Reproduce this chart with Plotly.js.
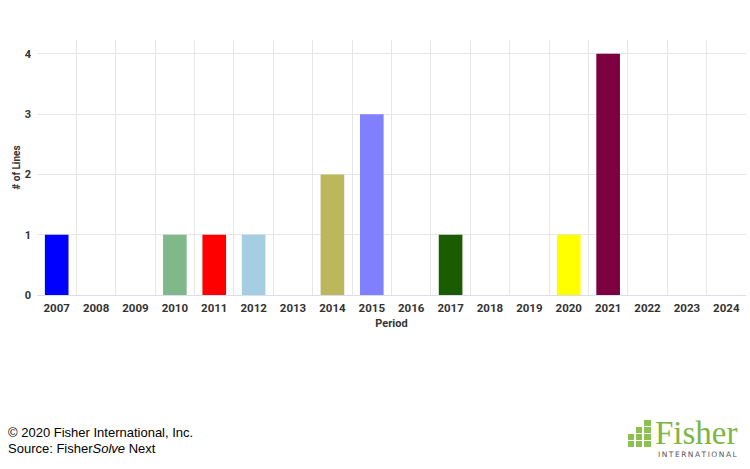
<!DOCTYPE html>
<html><head><meta charset="utf-8">
<script src="https://cdn.plot.ly/plotly-3.0.1.min.js"></script>
<style>html,body{margin:0;padding:0;background:#fff}#c{width:750px;height:469px}</style>
</head><body><div id="c"></div>
<script>
const years = [2007,2008,2009,2010,2011,2012,2013,2014,2015,2016,2017,2018,2019,2020,2021,2022,2023,2024];
const lines = [1,0,0,1,1,1,0,2,3,0,1,0,0,1,4,0,0,0];
const barColors = ['#0000ff','#cccccc','#cccccc','#7fb98a','#ff0000','#a6cee3','#cccccc','#bcb65c','#8080ff','#cccccc','#1a5c00','#cccccc','#cccccc','#ffff00','#7d0041','#cccccc','#cccccc','#cccccc'];
const yTicks = [0,1,2,3,4];
const boundaries = years.map(y => y - 0.5).concat([years[years.length-1] + 0.5]);

const trace = {
  type: 'bar', x: years, y: lines,
  marker: {color: barColors, line: {width: 0}},
  width: 0.6, hoverinfo: 'x+y'
};
const gridTrace = {type: 'scatter', x: [years[0]], y: [0], xaxis: 'x2', mode: 'markers', marker: {opacity: 0}, hoverinfo: 'skip', showlegend: false};
const xr = [years[0] - 0.5, years[years.length-1] + 0.5];
const px = x => (x-37)/709, py = y => (295-y)/255;
const footFont = {family: 'Liberation Sans, Arial, sans-serif', size: 13, color: '#000'};
const layout = {
  width: 750, height: 469,
  margin: {l: 37, r: 4, t: 40, b: 174},
  paper_bgcolor: '#fff', plot_bgcolor: '#fff',
  showlegend: false,
  font: {family: 'Roboto, sans-serif', color: '#333'},
  xaxis: {
    range: xr, tickvals: years, ticktext: years.map(String), showgrid: false, zeroline: false,
    tickfont: {size: 11.5, color: '#333', family: 'Roboto, sans-serif', weight: 'bold'},
    ticks: '', ticklen: 0, ticklabelstandoff: 4,
    title: {text: '<b>Period</b>', font: {size: 11, color: '#333'}, standoff: 5},
    showline: false, fixedrange: true
  },
  xaxis2: {
    overlaying: 'x', range: xr, tickvals: boundaries, showticklabels: false, showgrid: true,
    gridcolor: '#e6e6e6', gridwidth: 1, zeroline: false, ticks: ''
  },
  yaxis: {
    range: [0, 4.23], tickvals: yTicks, showgrid: true, gridcolor: '#e6e6e6', zeroline: true, zerolinecolor: '#dcdcf0', zerolinewidth: 1,
    tickfont: {size: 11, color: '#333', family: 'Roboto, sans-serif', weight: 'bold'},
    ticklabelstandoff: 5, automargin: true,
    title: {text: '<b># of Lines</b>', font: {size: 10, color: '#333'}, standoff: 2},
    ticks: '', fixedrange: true
  },
  annotations: [
    {xref: 'paper', yref: 'paper', x: px(6), y: py(433), text: '© 2020 Fisher International, Inc.', showarrow: false, xanchor: 'left', yanchor: 'middle', font: footFont},
    {xref: 'paper', yref: 'paper', x: px(6), y: py(448), text: 'Source: Fisher<i>Solve</i> Next', showarrow: false, xanchor: 'left', yanchor: 'middle', font: footFont},
    {xref: 'paper', yref: 'paper', x: px(653), y: py(433), text: 'Fisher', showarrow: false, xanchor: 'left', yanchor: 'middle', font: {family: 'Liberation Serif, serif', size: 33, color: '#7db646'}},
    {xref: 'paper', yref: 'paper', x: px(656), y: py(454), text: 'I\u2009N\u2009T\u2009E\u2009R\u2009N\u2009A\u2009T\u2009I\u2009O\u2009N\u2009A\u2009L', showarrow: false, xanchor: 'left', yanchor: 'middle', font: {family: 'DejaVu Sans, sans-serif', size: 7.5, color: '#555'}}
  ]
};
// logo blocks
const blocks = [[644,420,651,426],[636,427,642,433],[644,427,651,433],[628,434,634,440],[636,434,642,440],[644,434,651,440],[628,441,634,447],[636,441,642,447],[644,441,651,447]];
layout.shapes = blocks.map(b => ({type:'rect', xref:'paper', yref:'paper', x0:px(b[0]), x1:px(b[2]), y0:py(b[3]), y1:py(b[1]), fillcolor:'#8cc152', line:{width:0}}));
Plotly.newPlot('c', [trace, gridTrace], layout, {displayModeBar: false, staticPlot: true});
</script></body></html>
